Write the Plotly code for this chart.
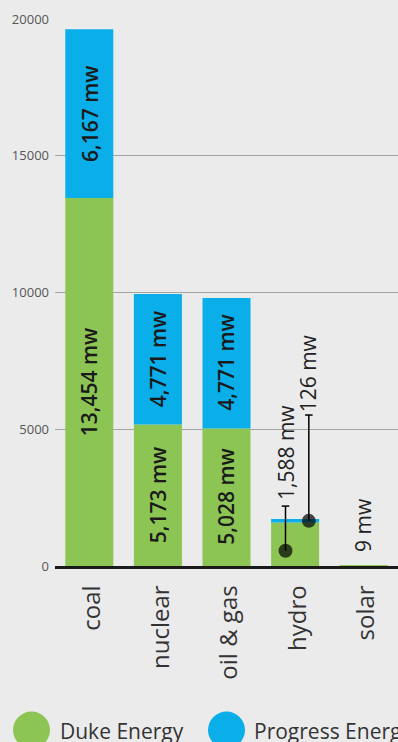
import plotly.graph_objects as go

# Generating capacity by fuel type (megawatts)
categories = ["coal", "nuclear", "oil & gas", "hydro", "solar"]
duke_mw = [13454, 5173, 5028, 1588, 9]
progress_mw = [6167, 4771, 4771, 126, 0]
y_ticks = [0, 5000, 10000, 15000, 20000]
series_names = ["Duke Energy", "Progress Energy"]

GREEN = "#8cc554"
BLUE = "#0aaee9"
BG = "#ebebeb"
FONT = "Open Sans"

W, H = 398, 742
M_L, M_R, M_T, M_B = 55, 0, 19, 176
Y_MAX = 20000
plot_h = H - M_T - M_B

x_idx = list(range(len(categories)))

fig = go.Figure()
fig.add_trace(go.Bar(x=x_idx, y=duke_mw, name=series_names[0],
                     marker=dict(color=GREEN, line=dict(width=0)), showlegend=False))
fig.add_trace(go.Bar(x=x_idx, y=progress_mw, base=duke_mw, name=series_names[1],
                     marker=dict(color=BLUE, line=dict(width=0)), showlegend=False))


def mw(v):
    return f"{v:,} mw"


annotations = []
# value labels inside the larger segments
for i, (d, p) in enumerate(zip(duke_mw, progress_mw)):
    if d >= 3000:
        annotations.append(dict(x=i, y=d / 2, text=mw(d), textangle=-90, showarrow=False,
                                font=dict(family=FONT, size=21, color="#1a1a1a", weight=600),
                                xanchor="center", yanchor="middle"))
    if p >= 3000:
        annotations.append(dict(x=i, y=d + p / 2, text=mw(p), textangle=-90, showarrow=False,
                                font=dict(family=FONT, size=21, color="#1a1a1a", weight=600),
                                xanchor="center", yanchor="middle"))

# hydro: leader lines with dots pointing into each segment
h = categories.index("hydro")
leaders = [
    # (x offset, dot value, line top value, label gap, label)
    (-0.14, duke_mw[h] * 0.35, 2190, 150, mw(duke_mw[h])),
    (0.20, duke_mw[h] + progress_mw[h] / 2, 5520, 20, mw(progress_mw[h])),
]
STUB = 0.055
for dx, dot_y, top_y, gap, label in leaders:
    lx = h + dx
    fig.add_trace(go.Scatter(x=[lx, lx, None, lx - STUB, lx + STUB],
                             y=[dot_y, top_y, None, top_y, top_y],
                             mode="lines+markers",
                             line=dict(color="#000", width=1.5),
                             marker=dict(size=[14, 0, 0, 0, 0], color="#000",
                                         line=dict(width=0)),
                             showlegend=False, hoverinfo="skip"))
    annotations.append(dict(x=lx, y=top_y + gap, text=label, textangle=-90, showarrow=False,
                            font=dict(family=FONT, size=21, color="#222"),
                            xanchor="center", yanchor="bottom"))

# solar: label above the sliver of a bar
s = categories.index("solar")
annotations.append(dict(x=s, y=duke_mw[s] + progress_mw[s] + 420, text=mw(duke_mw[s]),
                        textangle=-90, showarrow=False,
                        font=dict(family=FONT, size=21, color="#222"),
                        xanchor="center", yanchor="bottom"))


# legend drawn as circles + labels below the axis labels
def px_to_paper_y(py):
    return (H - M_B - py) / plot_h


def px_to_paper_x(px):
    return (px - M_L) / (W - M_L - M_R)


shapes = []
legend_items = [(31.5, 58, GREEN, series_names[0]), (226.5, 252, BLUE, series_names[1])]
for cx, tx, col, name in legend_items:
    shapes.append(dict(type="circle", xref="paper", yref="paper",
                       xsizemode="pixel", ysizemode="pixel",
                       xanchor=px_to_paper_x(cx), yanchor=px_to_paper_y(730),
                       x0=-18.5, x1=18.5, y0=-18.5, y1=18.5,
                       fillcolor=col, line=dict(width=0)))
    annotations.append(dict(xref="paper", yref="paper", x=px_to_paper_x(tx), y=px_to_paper_y(731),
                            text=name, showarrow=False, xanchor="left", yanchor="middle",
                            font=dict(family=FONT, size=21, color="#333")))

fig.update_layout(
    width=W, height=H,
    margin=dict(l=M_L, r=M_R, t=M_T, b=M_B, pad=0),
    paper_bgcolor=BG, plot_bgcolor=BG,
    barmode="overlay", bargap=0.3,
    showlegend=False,
    annotations=annotations, shapes=shapes,
    font=dict(family=FONT),
)
fig.update_xaxes(
    range=[-0.5, len(categories) - 0.5],
    tickvals=x_idx, ticktext=categories, tickangle=-90,
    tickfont=dict(family=FONT, size=24, color="#333"),
    showgrid=False, zeroline=False,
    showline=True, linecolor="#1a1a1a", linewidth=2.5,
    ticks="", ticklabelstandoff=7, ticklabelshift=3,
)
fig.update_yaxes(
    range=[0, Y_MAX], tickvals=y_ticks, tickformat="d",
    tickfont=dict(family=FONT, size=13, color="#555"),
    showgrid=True, gridcolor="#a3a3a3", gridwidth=1,
    zeroline=False, showline=False, ticks="", ticklabelstandoff=5,
)

fig.write_html("out.html")
